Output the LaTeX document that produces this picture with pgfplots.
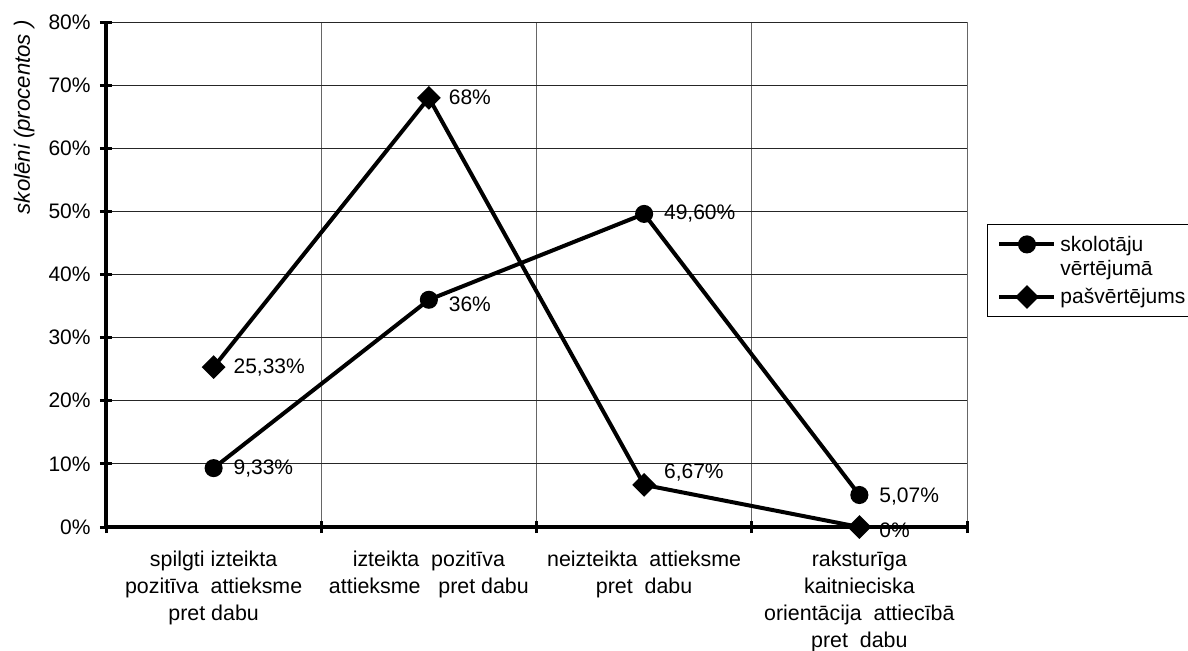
\documentclass[border=0pt]{standalone}
\usepackage{pgfplots}
\pgfplotsset{compat=1.18}
\usepackage{fontspec}
\setmainfont{Liberation Sans}
\pgfplotstableread{
x y dy label
0 9.33 0 {9,33\%}
1 36 -2.5 {36\%}
2 49.6 0 {49,60\%}
3 5.07 -1 {5,07\%}
}\teacher
\pgfplotstableread{
x y dy label
0 25.33 0 {25,33\%}
1 68 0 {68\%}
2 6.67 6 {6,67\%}
3 0 -1.5 {0\%}
}\self
\begin{document}
\begin{tikzpicture}
\useasboundingbox (0,0) rectangle (594pt,325pt);
\begin{axis}[
  at={(53pt,61.5pt)}, anchor=south west,
  scale only axis, width=430.5pt, height=252.5pt,
  xmin=-0.5, xmax=3.5, ymin=0, ymax=80,
  axis x line*=bottom, axis y line*=left,
  axis line style={line width=2pt, black},
  every tick/.style={black, line width=1.5pt},
  tick align=center, major tick length=6pt,
  xtick={-0.5,0.5,1.5,2.5,3.5}, xticklabels={},
  extra x ticks={0,1,2,3},
  extra x tick labels={{spilgti izteikta\\pozitīva~ attieksme\\pret dabu},
    {izteikta~ pozitīva\\attieksme~~ pret dabu},
    {neizteikta~ attieksme\\pret~ dabu},
    {raksturīga\\kaitnieciska\\orientācija~ attiecībā\\pret~ dabu}},
  extra x tick style={major tick length=0pt, grid=none,
    tick label style={align=center, font=\fontsize{10.7}{13.5}\selectfont, yshift=-8.5pt}},
  ytick={0,10,...,80},
  yticklabel={\pgfmathprintnumber{\tick}\%},
  /pgf/number format/assume math mode=true,
  yticklabel style={font=\fontsize{10.5}{12}\selectfont, inner sep=0pt, xshift=-4.5pt},
  xmajorgrids, ymajorgrids,
  major x grid style={black!60, line width=0.5pt},
  major y grid style={black!85, line width=0.5pt},
  ylabel={\itshape skolēni (procentos )},
  ylabel style={at={(rel axis cs:0,1)}, anchor=south east,
    xshift=1pt, yshift=35.5pt, inner sep=0pt, font=\fontsize{11.1}{13}\selectfont},
  legend style={at={(rel axis cs:1.0232,0.6)}, anchor=north west, draw=black,
    line width=0.5pt, font=\fontsize{10.5}{12}\selectfont, inner xsep=5pt, inner ysep=3pt,
    row sep=12.75pt},
  legend cell align=left,
  legend image code/.code={\draw[mark repeat=2,mark phase=2,#1] plot coordinates {(0pt,0pt) (13.75pt,0pt) (27.5pt,0pt)};},
  nodes near coords, point meta=explicit symbolic,
  visualization depends on={\thisrow{dy} \as \dy},
  every node near coord/.append style={anchor=west, xshift=8pt, yshift=\dy pt,
    inner sep=1pt, font=\fontsize{10.5}{12}\selectfont, black},
]
\addplot[black, line width=2pt, mark=*, mark size=3.5pt, mark options={solid, fill=black}]
  table[x=x, y=y, meta=label] {\teacher};
\addlegendentry{\begin{tabular}[t]{@{}l@{}}skolotāju\\vērtējumā\end{tabular}}
\addplot[black, line width=2pt, mark=square*, mark size=3.2pt, mark options={solid, fill=black, rotate=45}]
  table[x=x, y=y, meta=label] {\self};
\addlegendentry{pašvērtējums\hspace{20pt}}
\end{axis}
\end{tikzpicture}
\end{document}
